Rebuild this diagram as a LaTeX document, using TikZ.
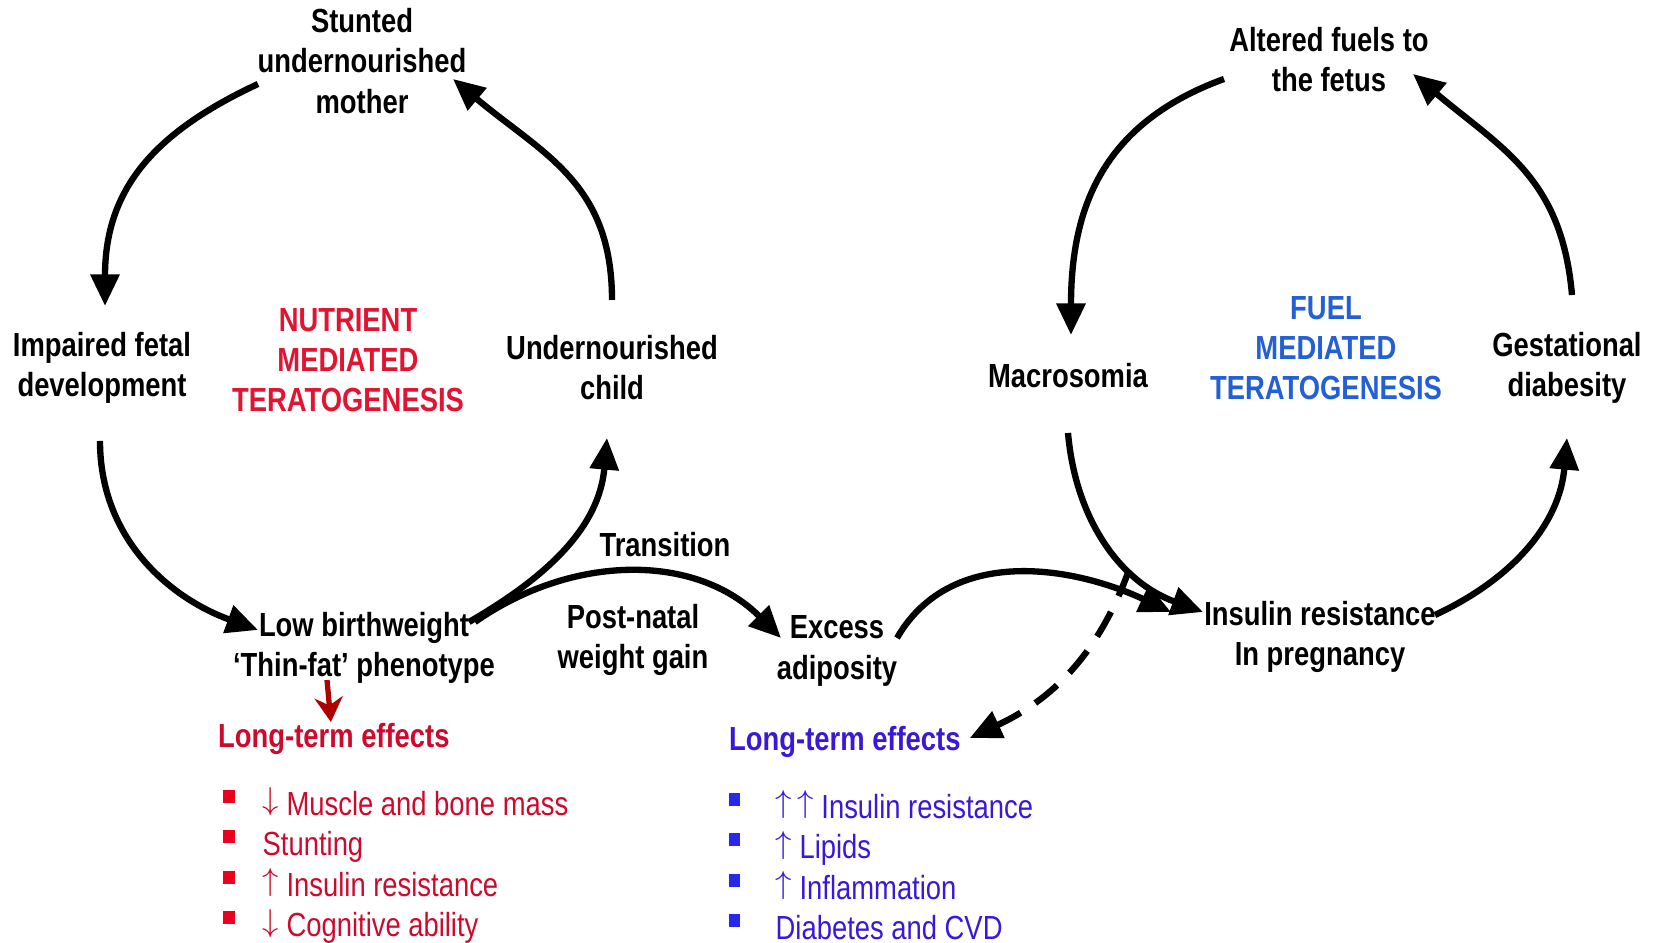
\documentclass[tikz,border=0pt]{standalone}
\usepackage{fontspec}
\setmainfont{Liberation Sans}[FakeStretch=0.82]
\usetikzlibrary{arrows.meta}

\definecolor{nutred}{RGB}{225,20,50}
\definecolor{fuelblue}{RGB}{35,95,215}
\definecolor{effred}{RGB}{205,10,45}
\definecolor{effblue}{RGB}{55,25,215}
\definecolor{bulred}{RGB}{235,0,30}
\definecolor{bulblue}{RGB}{40,40,235}
\definecolor{arrred}{RGB}{175,0,0}

\newcommand{\uparr}{\raisebox{1.6pt}{$\uparrow$}}
\newcommand{\downarr}{\raisebox{1.6pt}{$\downarrow$}}

\begin{document}
\begin{tikzpicture}[
        x=0.01cm, y=0.01cm,
        lbl/.style={align=center, inner sep=1pt, font=\fontsize{9.5pt}{11.4pt}\selectfont\bfseries},
        item/.style={anchor=base west, inner sep=0pt, font=\fontsize{9.5pt}{11.7pt}\selectfont},
        bul/.style={rectangle, inner sep=0pt, minimum width=0.11cm, minimum height=0.13cm},
        cyc/.style={line width=1.8pt, -{Triangle[length=9pt,width=8pt]}}
        ]
    \useasboundingbox (0,0) rectangle (1654,943);

    % nutrient cycle
    \node[lbl] (mother) at (362,882) {Stunted\\undernourished\\mother};
    \node[lbl] (impaired) at (102,575) {Impaired fetal\\development};
    \node[lbl, text=nutred] (nutrient) at (348,583) {NUTRIENT\\MEDIATED\\TERATOGENESIS};
    \node[lbl] (child) at (612,575) {Undernourished\\child};
    \node[lbl] (lowbw) at (364,295) {Low birthweight\\‘Thin-fat’ phenotype};

    % transition
    \node[lbl] (transition) at (665,398) {Transition};
    \node[lbl] (postnatal) at (633,303) {Post-natal\\weight gain};
    \node[lbl] (excess) at (837,292) {Excess\\adiposity};

    % fuel cycle
    \node[lbl] (altered) at (1329,883) {Altered fuels to\\the fetus};
    \node[lbl] (macro) at (1068,567) {Macrosomia};
    \node[lbl, text=fuelblue] (fuel) at (1326,595) {FUEL\\MEDIATED\\TERATOGENESIS};
    \node[lbl] (gest) at (1567,575) {Gestational\\diabesity};
    \node[lbl] (insulin) at (1320,306) {Insulin resistance\\In pregnancy};

    % long-term effects
    \node[lbl, anchor=west, text=effred] (redtitle) at (214,204) {Long-term effects};
    \node[lbl, anchor=west, text=effblue] (bluetitle) at (725,201) {Long-term effects};
    \foreach \txt [count=\i] in {\downarr\ Muscle and bone mass, Stunting, \uparr\ Insulin resistance, \downarr\ Cognitive ability}{
        \node[bul, fill=bulred] (rbul\i) at (229,187-40.5*\i) {};
        \node[item, text=effred] (ritem\i) at (262,168-40.5*\i) {\txt};
    }
    \foreach \txt [count=\i] in {\uparr\,\uparr\ Insulin resistance, \uparr\ Lipids, \uparr\ Inflammation, Diabetes and CVD}{
        \node[bul, fill=bulblue] (bbul\i) at (734,184-40.5*\i) {};
        \node[item, text=effblue] (bitem\i) at (775,165-40.5*\i) {\txt};
    }

    \draw[cyc] ([shift={(-104,-23)}]mother.center) to[out=205, in=90, looseness=1.1] ([shift={(3,62)}]impaired.center);
    \draw[cyc] ([shift={(-2,-73)}]impaired.center) to[out=-90, in=160] ([shift={(-106,18)}]lowbw.center);
    \draw[cyc] ([shift={(105,26)}]lowbw.center) to[out=30, in=-95] ([shift={(-5,-70)}]child.center);
    \draw[cyc] ([shift={(0,68)}]child.center) to[out=90, in=-40, looseness=1.1] ([shift={(91,-18)}]mother.center);
    \draw[cyc] ([shift={(111,26)}]lowbw.center) to[out=35, in=135] ([shift={(-56,13)}]excess.center);
    \draw[cyc] ([shift={(60,13)}]excess.center) to[out=60, in=155] ([shift={(-149,25)}]insulin.center);
    \draw[cyc] ([shift={(0,-57)}]macro.center) to[out=-85, in=160] ([shift={(-117,25)}]insulin.center);
    \draw[cyc] ([shift={(115,22)}]insulin.center) to[out=25, in=-95] ([shift={(0,-70)}]gest.center);
    \draw[cyc] ([shift={(5,73)}]gest.center) to[out=95, in=-40, looseness=1.1] ([shift={(84,-14)}]altered.center);
    \draw[cyc] ([shift={(-105,-19)}]altered.center) to[out=200, in=90, looseness=1.1] ([shift={(3,41)}]macro.center);
    \draw[cyc, dash pattern=on 8pt off 5pt] ([shift={(-191,67)}]insulin.center) to[out=-110, in=25] ([shift={(5,4)}]bluetitle.east);
    \draw[arrred, line width=1.5pt, -{Stealth[length=7pt,width=8pt]}] ([shift={(-37,-32)}]lowbw.center) -- ([shift={(-3,17)}]redtitle.center);

\end{tikzpicture}
\end{document}
